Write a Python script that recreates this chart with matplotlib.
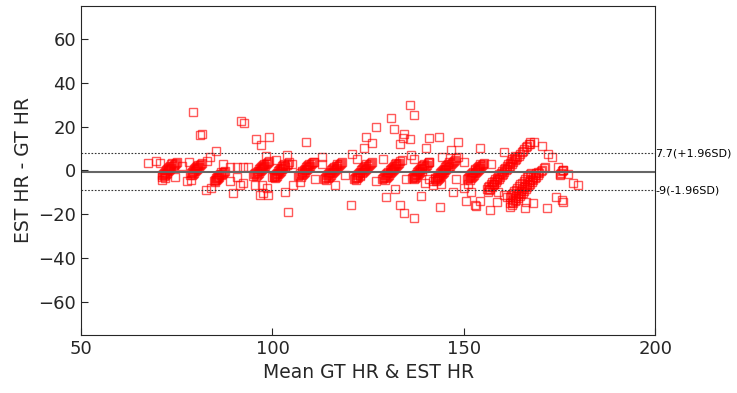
import numpy as np
import matplotlib
matplotlib.use("Agg")
import matplotlib.pyplot as plt

streak_gt = [73.0, 72.2, 80.0, 79.3, 87.6, 87.0, 97.0, 96.2, 102.4, 101.6,
             108.8, 108.0, 116.2, 115.4, 124.0, 123.2, 131.4, 130.6, 139.0, 138.2,
             145.2, 144.4, 153.6, 152.8, 161.0, 160.2, 170.4, 169.6, 168.0, 176.0]
streak_diff = [
    [-2.6, -2.1, -1.5, -1.0, -0.4, 0.1, 0.7, 1.2, 1.8, 2.3, 2.9, 3.4, 3.9],
    [-2.3, -1.7, -1.2, -0.6, 0.0, 0.5, 1.1, 1.6, 2.2, 2.7, 3.3],
    [-2.2, -1.6, -1.1, -0.5, 0.1, 0.6, 1.2, 1.7, 2.3, 2.8, 3.3],
    [-1.9, -1.3, -0.8, -0.2, 0.4, 0.9, 1.5, 2.0, 2.6],
    [-5.1, -4.5, -4.0, -3.4, -2.9, -2.3, -1.8, -1.2, -0.7, -0.1],
    [-4.8, -4.2, -3.7, -3.1, -2.6, -2.0, -1.5, -0.9],
    [-2.7, -2.2, -1.6, -1.1, -0.5, 0.0, 0.6, 1.1, 1.7, 2.2, 2.8, 3.3, 3.9, 4.4],
    [-2.4, -1.8, -1.3, -0.7, -0.2, 0.4, 0.9, 1.5, 2.0, 2.6, 3.1],
    [-3.5, -2.9, -2.4, -1.8, -1.3, -0.7, -0.2, 0.4, 0.9, 1.5, 2.0, 2.6, 3.1, 3.7],
    [-3.2, -2.6, -2.1, -1.5, -1.0, -0.4, 0.1, 0.7, 1.2, 1.8, 2.3, 2.9],
    [-2.8, -2.2, -1.7, -1.1, -0.6, 0.0, 0.5, 1.1, 1.6, 2.2, 2.7, 3.3, 3.8, 4.0],
    [-2.5, -1.9, -1.4, -0.8, -0.3, 0.3, 0.8, 1.4, 1.9, 2.5, 3.0],
    [-4.2, -3.6, -3.1, -2.5, -2.0, -1.4, -0.9, -0.3, 0.2, 0.8, 1.3, 1.9, 2.4, 3.0, 3.5, 4.0],
    [-3.9, -3.3, -2.8, -2.2, -1.7, -1.1, -0.6, 0.0, 0.5, 1.1, 1.6, 2.2, 2.7],
    [-4.2, -3.6, -3.1, -2.5, -2.0, -1.4, -0.9, -0.3, 0.2, 0.8, 1.3, 1.9, 2.4, 3.0, 3.5, 4.0],
    [-3.9, -3.3, -2.8, -2.2, -1.7, -1.1, -0.6, 0.0, 0.5, 1.1, 1.6, 2.2, 2.7],
    [-4.2, -3.6, -3.1, -2.5, -2.0, -1.4, -0.9, -0.3, 0.2, 0.8, 1.3, 1.9, 2.4, 3.0, 3.5, 4.1, 4.7],
    [-3.9, -3.3, -2.8, -2.2, -1.7, -1.1, -0.6, 0.0, 0.5, 1.1, 1.6, 2.2, 2.7, 3.3],
    [-4.0, -3.4, -2.9, -2.3, -1.8, -1.2, -0.7, -0.1, 0.4, 1.0, 1.5, 2.1, 2.6, 3.2, 3.7, 4.0],
    [-3.7, -3.1, -2.6, -2.0, -1.5, -0.9, -0.4, 0.2, 0.7, 1.3, 1.8, 2.4, 2.9],
    [-5.0, -4.4, -3.9, -3.3, -2.8, -2.2, -1.7, -1.1, -0.6, 0.0, 0.5, 1.1, 1.6, 2.2, 2.7, 3.3, 3.8, 4.4, 4.9, 5.5, 6.3],
    [-4.7, -4.1, -3.6, -3.0, -2.5, -1.9, -1.4, -0.8, -0.3, 0.3, 0.8, 1.4, 1.9, 2.5, 3.0, 3.6],
    [-4.2, -3.6, -3.1, -2.5, -2.0, -1.4, -0.9, -0.3, 0.2, 0.8, 1.3, 1.9, 2.4, 3.0, 3.2],
    [-3.9, -3.3, -2.8, -2.2, -1.7, -1.1, -0.6, 0.0, 0.5, 1.1, 1.6, 2.2, 2.7],
    [-9.0, -8.3, -7.5, -6.8, -6.0, -5.3, -4.5, -3.8, -3.0, -2.3, -1.5, -0.8, 0.0, 0.7, 1.5,
     2.2, 3.0, 3.7, 4.5, 5.2, 6.0, 6.7, 7.5, 8.2, 9.0, 9.7, 10.5, 11.2, 12.0, 12.8],
    [-8.5, -7.8, -7.0, -6.3, -5.5, -4.8, -4.0, -3.3, -2.5, -1.8, -1.0, -0.3, 0.5, 1.2, 2.0,
     2.7, 3.5, 4.2, 5.0, 5.7, 6.5],
    [-16.5, -15.7, -14.9, -14.1, -13.3, -12.5, -11.7, -10.9, -10.1, -9.3, -8.5, -7.7, -6.9,
     -6.1, -5.3, -4.5, -3.7, -2.9, -2.1, -1.3, -0.5, 0.3, 1.0, 1.7],
    [-15.0, -14.2, -13.4, -12.6, -11.8, -11.0, -10.2, -9.4, -8.6, -7.8, -7.0, -6.2, -5.4,
     -4.6, -3.8, -3.0, -2.2, -1.4, -0.6],
    [-12.0, -11.2, -10.4, -9.6, -8.8, -8.0, -7.2, -6.4, -5.6, -4.8, -4.0, -3.2, -2.4, -1.6, -1.0],
    [-2.0, -1.5, -1.0, -0.5, 0.0],
]

# scattered points (mean, diff)
other_mean = [67.6, 69.6, 70.5, 71.1, 71.2, 71.9, 74.6, 76.3, 78.3, 77.6, 78.7, 79.3, 81.1, 81.5,
              82.7, 83.9, 89.8, 85.2, 83.7, 82.8, 87.0, 88.9, 90.7, 92.4, 93.7, 88.9, 91.5, 92.4,
              90.7, 91.8, 92.6, 95.7, 97.0, 99.2, 108.8, 104.0, 120.4, 120.7, 96.8, 97.6, 98.9,
              103.3, 95.5, 97.2, 98.5, 105.5, 107.2, 112.9, 116.4, 100.9, 103.9, 98.3, 136.0,
              137.0, 131.1, 131.7, 127.0, 124.5, 126.1, 123.8, 134.4, 134.0, 136.0, 133.4, 140.9,
              143.5, 140.0, 146.6, 148.4, 144.3, 136.1, 132.0, 129.7, 138.8, 133.4, 134.3, 136.9,
              143.8, 147.1, 139.9, 142.0, 154.3, 160.6, 168.4, 167.3, 170.4, 172.1, 173.0, 174.7,
              176.0, 177.3, 178.6, 179.8, 174.0, 175.6, 176.0, 150.5, 153.0, 153.1, 156.9, 158.6,
              154.1, 166.3, 168.0, 166.0, 171.7, 160.6, 161.2, 159.0, 156.4, 100.5, 105.0, 111.0,
              113.0, 119.0, 122.0, 127.0, 129.0, 135.0, 137.0, 141.0, 144.0, 150.0, 151.0, 157.0,
              148.0, 150.0, 152.0, 158.0]
other_diff = [3.3, 4.3, 3.3, -4.3, -2.8, -3.6, -2.8, 2.1, 4.0, -4.8, -4.3, 26.6, 15.9, 16.5,
              -8.9, -8.1, -10.4, 9.0, 6.3, 4.3, 2.8, 1.7, 1.7, 1.7, 1.7, -4.8, -6.6, -5.8,
              -2.8, 22.7, 21.6, 14.2, 11.6, 15.4, 12.9, -19.1, -15.8, 7.5, -11.2, -10.4, -11.2,
              -9.9, -6.6, -6.6, -8.1, -6.6, -5.1, 6.3, -6.6, 4.8, 7.1, 6.6, 29.9,
              25.3, 23.8, 18.8, 19.7, 15.2, 12.6, 10.1, 16.5, 14.7, 14.4, 12.0, 14.8,
              15.2, 10.1, 9.2, 13.0, 6.0, 6.9, -8.6, -12.0, -11.5, -15.8, -19.5, -21.6,
              -16.8, -9.7, -5.8, -6.9, 10.1, 8.3, 12.9, 12.0, 11.3, 7.5, 6.2, 1.7,
              0.2, -1.6, -5.8, -6.9, -12.0, -13.5, -14.5, -13.9, -15.8, -16.2, -18.0, -14.5,
              -13.9, -14.5, -15.0, -17.3, -17.0, -11.2, -12.0, -10.0, -9.7, -3.0, 3.0, -4.0,
              3.0, -2.0, 5.0, -5.0, 5.0, -4.0, 5.0, -4.0, -6.0, 4.0, -6.0, 3.0,
              -4.0, -8.0, -10.0, -6.0]

loa_upper = 7.7
loa_lower = -9.0
mean_diff = (loa_upper + loa_lower) / 2

gt = np.repeat(streak_gt, [len(d) for d in streak_diff])
d = np.concatenate([np.array(v) for v in streak_diff])
x = np.concatenate([gt + d / 2, other_mean])
y = np.concatenate([d, other_diff])

plt.rcParams['font.family'] = 'DejaVu Sans'
fig = plt.figure(figsize=(7.37, 3.93), dpi=100)
ax = fig.add_axes([0.110, 0.148, 0.779, 0.837])

ax.plot(x, y, 's', ms=5.2, mfc='none', mec='red', mew=1.0, alpha=0.65)
ax.axhline(mean_diff, color='#666666', lw=1.5)
ax.axhline(loa_upper, color='#333333', lw=0.8, ls=(0, (1.5, 1.5)))
ax.axhline(loa_lower, color='#333333', lw=0.8, ls=(0, (1.5, 1.5)))

ax.set_xlim(50, 200)
ax.set_ylim(-75, 75)
ax.set_xticks([50, 100, 150, 200])
ax.set_yticks([-60, -40, -20, 0, 20, 40, 60])
ax.tick_params(direction='in', length=5, labelsize=13, colors='#262626', width=0.8)
for s in ax.spines.values():
    s.set_color('#262626')
    s.set_linewidth(0.8)
ax.set_xlabel('Mean GT HR & EST HR', fontsize=13.5, color='#262626')
ax.set_ylabel('EST HR - GT HR', fontsize=13.5, color='#262626')

ax.text(200, loa_upper, '7.7(+1.96SD)', fontsize=8, va='center', ha='left', clip_on=False)
ax.text(200, loa_lower, '-9(-1.96SD)', fontsize=8, va='center', ha='left', clip_on=False)

fig.savefig('out.png', dpi=100)
